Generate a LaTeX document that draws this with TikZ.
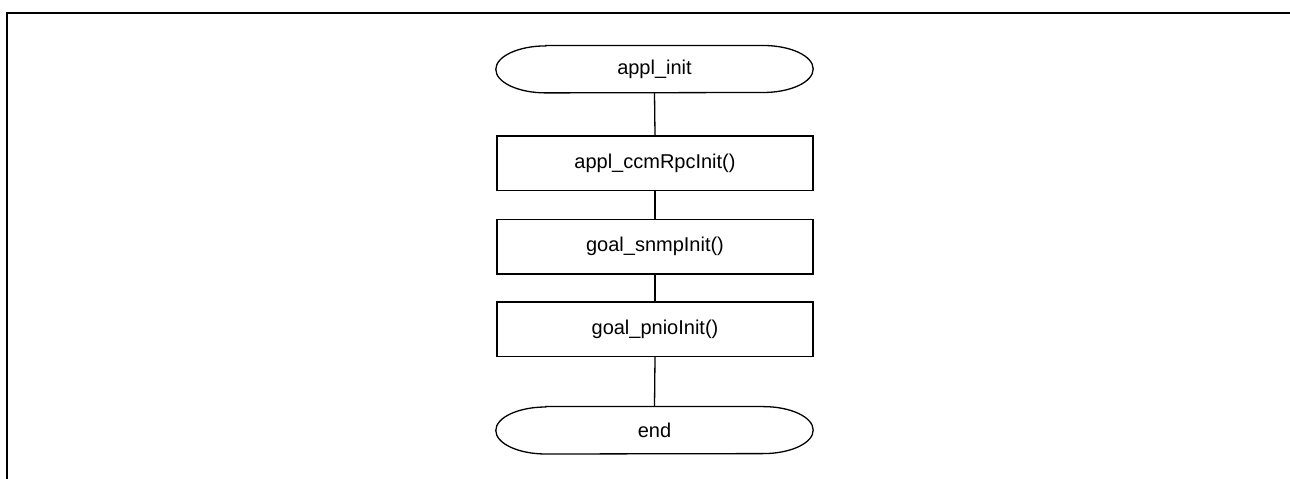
\documentclass[tikz,border=0pt]{standalone}
\usepackage{fontspec}
\setmainfont{Liberation Sans}
\begin{document}
\begin{tikzpicture}[x=1pt,y=1pt,
  procbox/.style={draw, line width=1.3pt, minimum width=316pt, minimum height=54.5pt, inner sep=0pt, font=\fontsize{20}{24}\selectfont},
  termbox/.style={minimum width=317pt, minimum height=47pt, inner sep=0pt, font=\fontsize{20}{24}\selectfont},
  conn/.style={line width=1.3pt}]
\useasboundingbox (0,0) rectangle (1290,479);
\draw[line width=2pt] (7,0) -- (7,466) -- (1291,466);
\node[termbox] (s) at (654.5,409.8) {appl\_init};
\node[procbox] (b1) at (655,315.7) {appl\_ccmRpcInit()};
\node[procbox] (b2) at (655,232.3) {goal\_snmpInit()};
\node[procbox] (b3) at (655,149.7) {goal\_pnioInit()};
\node[termbox] (e) at (654.5,48.7) {end};
\foreach \t in {s,e}{
  \draw[line width=1.3pt] ([xshift=50pt]\t.north west) -- ([xshift=-50pt]\t.north east)
    arc[start angle=90,end angle=-90,x radius=50pt,y radius=23.5pt]
    -- ([xshift=50pt]\t.south west)
    arc[start angle=270,end angle=90,x radius=50pt,y radius=23.5pt] -- cycle;
}
\draw[conn] (s.south) -- (b1.north);
\draw[conn] (b1.south) -- (b2.north);
\draw[conn] (b2.south) -- (b3.north);
\draw[conn] (b3.south) -- (e.north);
\end{tikzpicture}
\end{document}
